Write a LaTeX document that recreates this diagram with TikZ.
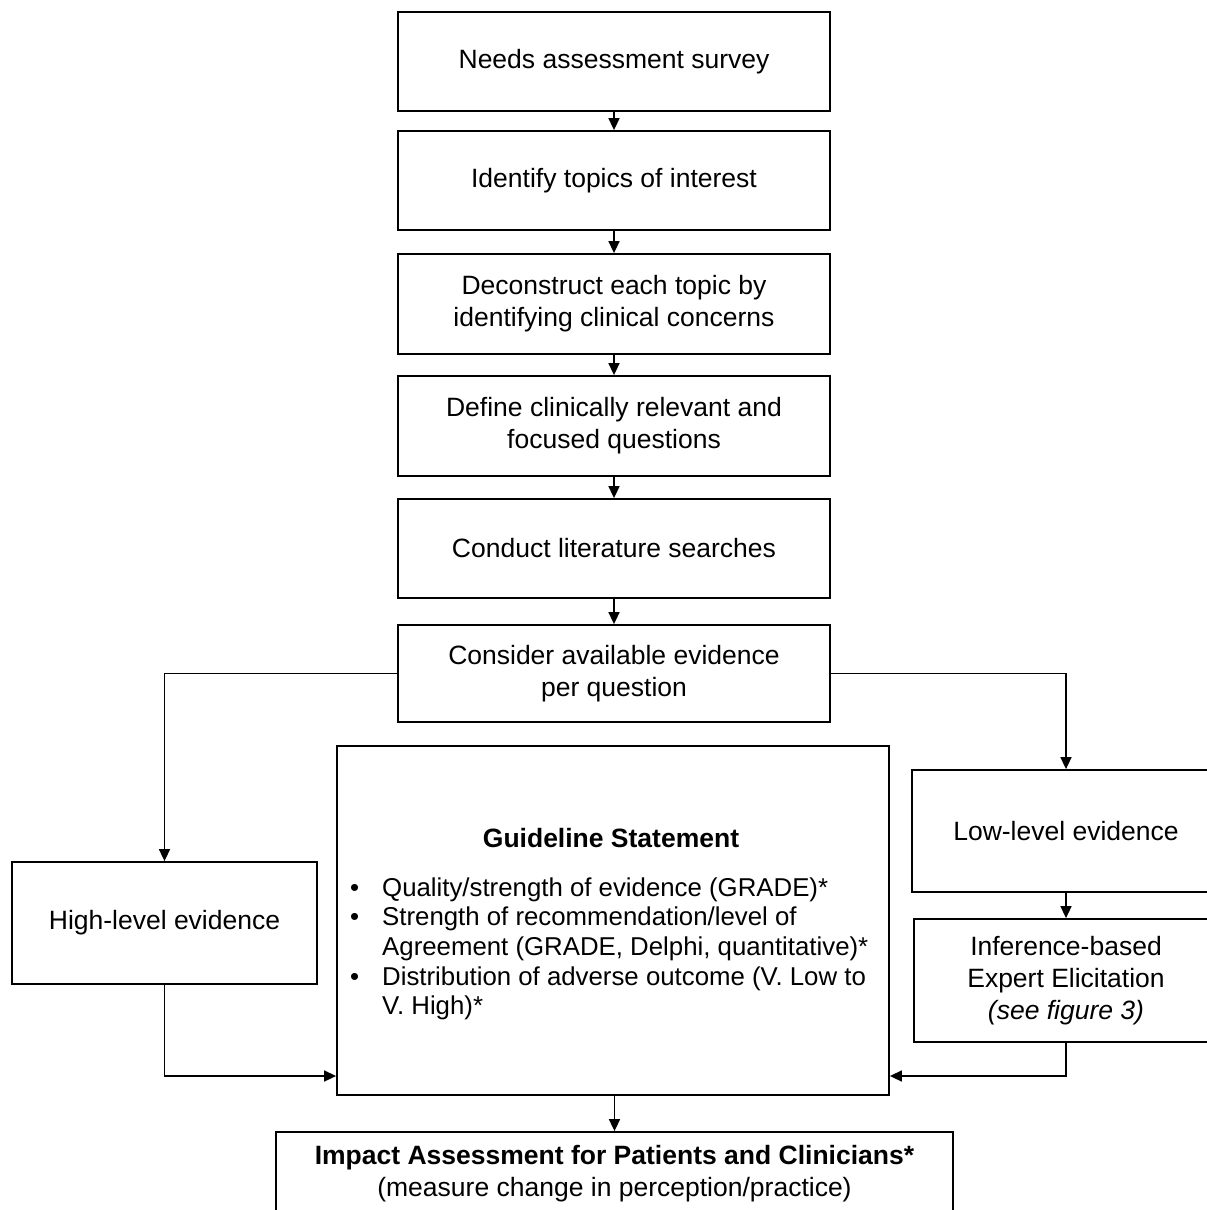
\documentclass[tikz,border=0pt]{standalone}
\usepackage{fontspec}
\setmainfont{Liberation Sans}
\usetikzlibrary{arrows.meta}
\tikzset{
  box/.style={draw, line width=1.8pt, align=center, inner sep=0pt,
    font=\fontsize{26.5}{32}\selectfont},
  arr/.style={line width=1.6pt, -{Triangle[width=11pt,length=12pt]}},
}
\begin{document}
\begin{tikzpicture}[x=1pt,y=-1pt]
\clip (0,0) rectangle (1207,1210);
\fill[white] (0,0) rectangle (1207,1210);
\node[box, minimum width=432, minimum height=99] (n1) at (614,61.5) {Needs assessment survey};
\node[box, minimum width=432, minimum height=99] (n2) at (614,180.5) {Identify topics of interest};
\node[box, minimum width=432, minimum height=100] (n3) at (614,304) {Deconstruct each topic by\\identifying clinical concerns};
\node[box, minimum width=432, minimum height=100] (n4) at (614,426) {Define clinically relevant and\\focused questions};
\node[box, minimum width=432, minimum height=99] (n5) at (614,548.5) {Conduct literature searches};
\node[box, minimum width=432, minimum height=97] (n6) at (614,673.5) {Consider available evidence\\per question};
\node[box, minimum width=552, minimum height=349] (gs) at (613,920.5) {};
\node[font=\fontsize{26.5}{32}\selectfont\bfseries, inner sep=0pt] (gst) at (611,838) {Guideline Statement};
\node[anchor=north west, inner sep=0pt, font=\fontsize{25.8}{29.7}\selectfont] (gsl) at (350,875)
 {\begin{tabular}{@{}p{32pt}@{}l@{}}
  \textbullet & Quality/strength of evidence (GRADE)*\\
  \textbullet & Strength of recommendation/level of\\
   & Agreement (GRADE, Delphi, quantitative)*\\
  \textbullet & Distribution of adverse outcome (V. Low to\\
   & V. High)*
  \end{tabular}};
\node[box, minimum width=305, minimum height=122] (hl) at (164.5,923) {High-level evidence};
\node[box, minimum width=308, minimum height=122] (ll) at (1066,831) {Low-level evidence};
\node[box, minimum width=304, minimum height=123] (inf) at (1066,980.5) {Inference-based\\Expert Elicitation\\\textit{(see figure 3)}};
\node[box, minimum width=677, minimum height=84] (imp) at (614.5,1174) {\textbf{Impact Assessment for Patients and Clinicians*}\\(measure change in perception/practice)};
\coordinate (lvl) at (0,1076);
\draw[arr] (n1) -- (n2);
\draw[arr] (n2) -- (n3);
\draw[arr] (n3) -- (n4);
\draw[arr] (n4) -- (n5);
\draw[arr] (n5) -- (n6);
\draw[arr] (n6.west) -| (hl.north);
\draw[arr] (n6.east) -| (ll.north);
\draw[arr] (ll) -- (inf);
\draw[arr] (hl.south) |- (gs.west |- lvl);
\draw[arr] (inf.south) |- (gs.east |- lvl);
\draw[arr] (gs.south -| imp.north) -- (imp.north);
\end{tikzpicture}
\end{document}
